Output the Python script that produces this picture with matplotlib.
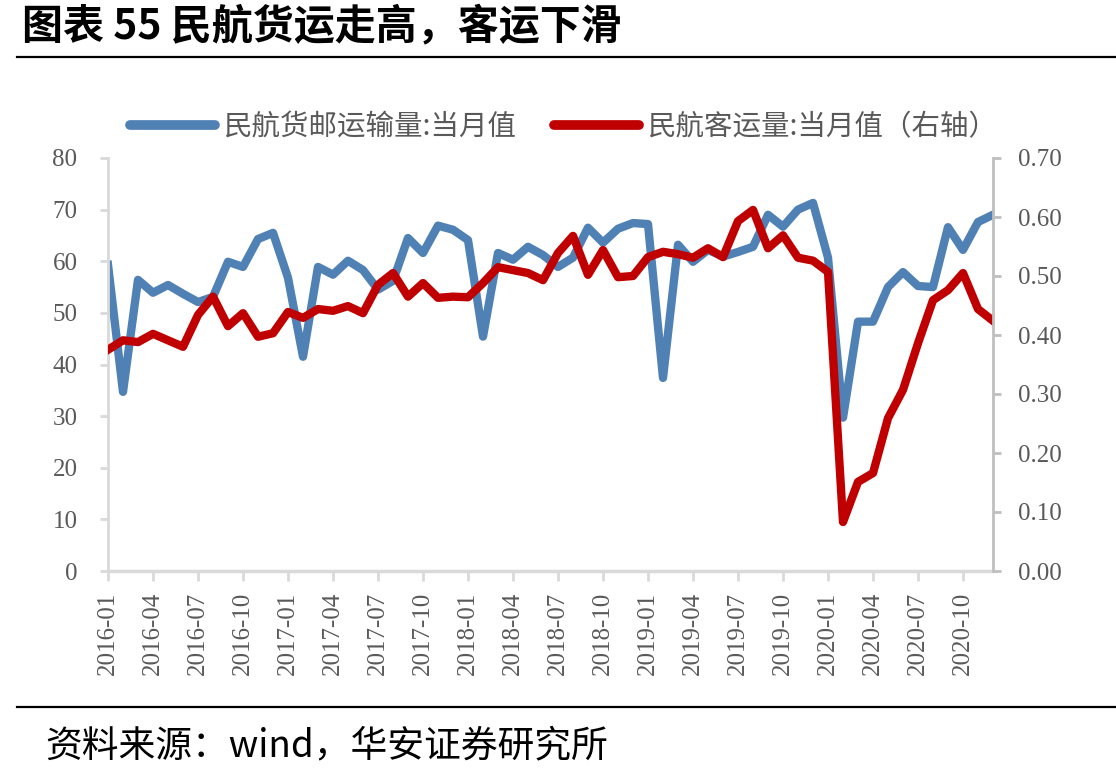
import pandas as pd
import matplotlib
matplotlib.use("Agg")
import matplotlib.pyplot as plt

# 月份（2016-01 至 2020-12）
months = pd.date_range("2016-01-01", "2020-12-01", freq="MS").strftime("%Y-%m").tolist()

# 民航货邮运输量:当月值（万吨，左轴）
cargo = [59.3, 34.7, 56.4, 53.9, 55.4, 53.7, 52.1, 53.1, 59.9, 58.9, 64.3, 65.5,
         56.8, 41.5, 58.9, 57.4, 60.1, 58.3, 54.5, 56.2, 64.5, 61.6, 66.9, 66.1,
         64.1, 45.4, 61.6, 60.3, 62.8, 61.2, 58.9, 60.7, 66.5, 63.6, 66.3, 67.4,
         67.2, 37.4, 63.2, 59.9, 62.2, 60.9, 61.8, 62.8, 69.0, 66.7, 70.0, 71.3,
         60.7, 29.7, 48.3, 48.3, 55.0, 57.9, 55.2, 55.0, 66.6, 62.2, 67.6, 69.0]

# 民航客运量:当月值（亿人，右轴）
passenger = [0.375, 0.391, 0.388, 0.402, 0.391, 0.380, 0.434, 0.465, 0.415, 0.437, 0.397, 0.403,
             0.439, 0.429, 0.444, 0.441, 0.449, 0.437, 0.485, 0.505, 0.465, 0.488, 0.463, 0.465,
             0.464, 0.488, 0.515, 0.510, 0.505, 0.493, 0.539, 0.568, 0.502, 0.544, 0.498, 0.500,
             0.532, 0.541, 0.537, 0.531, 0.547, 0.532, 0.593, 0.612, 0.547, 0.569, 0.531, 0.526,
             0.507, 0.083, 0.151, 0.166, 0.259, 0.307, 0.386, 0.459, 0.476, 0.505, 0.444, 0.424]

left_ticks = [0, 10, 20, 30, 40, 50, 60, 70, 80]
right_ticks = [0.0, 0.1, 0.2, 0.3, 0.4, 0.5, 0.6, 0.7]

cjk = ["Noto Sans CJK SC", "DejaVu Sans"]
serif = "Liberation Serif"
gray_txt = "#595959"

fig = plt.figure(figsize=(11.16, 7.75), dpi=100)
ax = fig.add_axes([108 / 1116, 1 - 571 / 775, (993 - 108) / 1116, (571 - 158) / 775])
ax2 = ax.twinx()

x = list(range(len(months)))
l1, = ax.plot(x, cargo, color="#4f81b5", lw=6, label="民航货邮运输量:当月值")
l2, = ax2.plot(x, passenger, color="#c00000", lw=6, label="民航客运量:当月值（右轴）")

ax.set_xlim(0, len(months) - 1)
ax.set_ylim(0, 80)
ax2.set_ylim(0, 0.7)
ax.set_yticks(left_ticks)
ax.set_yticklabels([str(v) for v in left_ticks])
ax2.set_yticks(right_ticks)
ax2.set_yticklabels([f"{v:.2f}" for v in right_ticks])
ax.set_xticks(x[::3])
ax.set_xticklabels(months[::3], rotation=90)

for a in (ax, ax2):
    for s in a.spines.values():
        s.set_visible(False)

ax.spines["left"].set_visible(True)
ax.spines["left"].set_color("#d9d9d9")
ax.spines["left"].set_linewidth(2)
ax.spines["bottom"].set_visible(True)
ax.spines["bottom"].set_color("#d9d9d9")
ax.spines["bottom"].set_linewidth(2.5)
ax2.spines["right"].set_visible(True)
ax2.spines["right"].set_color("#bfbfbf")
ax2.spines["right"].set_linewidth(2)

ax.tick_params(axis="y", length=6, width=2, color="#d9d9d9", pad=16,
               labelsize=18, labelcolor=gray_txt)
ax.tick_params(axis="x", length=7, width=2, color="#d9d9d9", pad=8,
               labelsize=18, labelcolor=gray_txt)
ax2.tick_params(axis="y", length=6, width=2, color="#bfbfbf", pad=12,
                labelsize=18, labelcolor=gray_txt)
for lab in ax.get_xticklabels() + ax.get_yticklabels() + ax2.get_yticklabels():
    lab.set_fontfamily(serif)

leg = fig.legend(handles=[l1, l2], loc="center", bbox_to_anchor=(0.505, 1 - 127 / 775),
                 ncol=2, frameon=False, prop={"family": cjk, "size": 20.5},
                 handlelength=3.0, handletextpad=0.3, columnspacing=1.3)
for t in leg.get_texts():
    t.set_color(gray_txt)
for h in leg.legend_handles:
    h.set_linewidth(7)
    h.set_solid_capstyle("round")

# 标题与来源
fig.text(22 / 1116, 1 - 26 / 775, "图表 55 民航货运走高，客运下滑", family=cjk,
         fontsize=29.5, fontweight="bold", va="center", ha="left", color="black")
fig.add_artist(plt.Line2D([17 / 1116, 1], [1 - 57 / 775] * 2, color="black", lw=1.6))
fig.add_artist(plt.Line2D([17 / 1116, 1], [1 - 707 / 775] * 2, color="black", lw=1.6))
fig.text(45 / 1116, 1 - 746 / 775, "资料来源：wind，华安证券研究所", family=cjk,
         fontsize=26.5, va="center", ha="left", color="black")

fig.savefig("out.png", dpi=100)
